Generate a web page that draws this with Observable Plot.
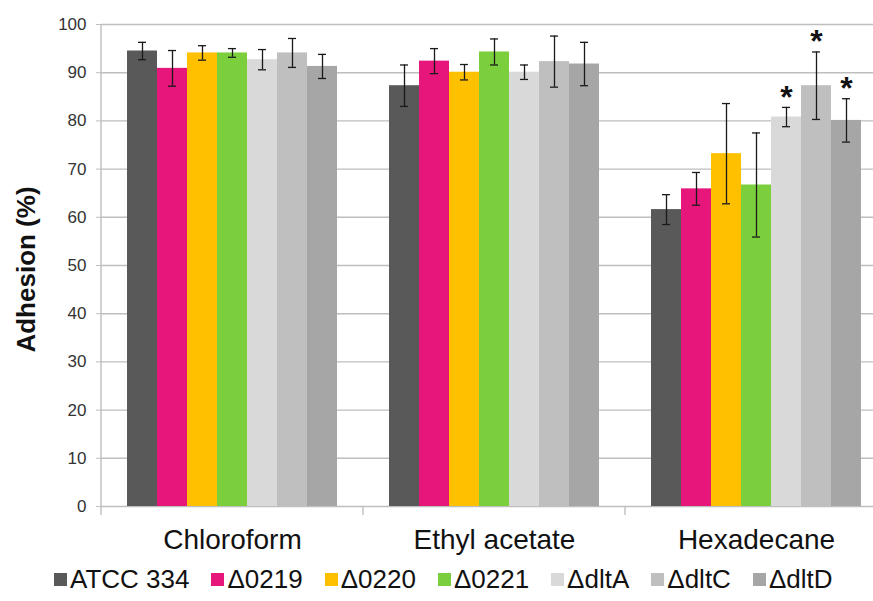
<!DOCTYPE html>
<html><head><meta charset="utf-8">
<script src="https://cdn.jsdelivr.net/npm/d3@7"></script>
<script src="https://cdn.jsdelivr.net/npm/@observablehq/plot@0.6"></script>
<style>
html,body{margin:0;padding:0;background:#fff;overflow:hidden;width:873px;height:601px;}
#chart{position:absolute;left:0;top:0;width:888px;}
#chart svg{max-width:none !important;}
#legend{position:absolute;left:0;top:564px;width:873px;box-sizing:border-box;padding-left:54px;display:flex;justify-content:flex-start;gap:22px;
  font-family:"Liberation Sans",Arial,sans-serif;font-size:26px;line-height:30px;color:#111;}
#legend .item{display:flex;align-items:center;white-space:pre;}
#legend .sw{width:13px;height:13px;margin-right:3px;}
</style></head><body>
<div id="chart"></div><div id="legend"></div>
<script>
const solvents = ["Chloroform", "Ethyl acetate", "Hexadecane"];
const strains = ["ATCC 334", "Δ0219", "Δ0220", "Δ0221", "ΔdltA", "ΔdltC", "ΔdltD"];
const strainColors = ["#595959", "#E6167A", "#FFC000", "#7CCF3C", "#D9D9D9", "#BFBFBF", "#A6A6A6"];
const chloroform = [94.5, 90.9, 94.1, 94.1, 92.7, 94.1, 91.3];
const chloroformErr = [1.8, 3.7, 1.5, 0.9, 2.1, 3.0, 2.5];
const ethylAcetate = [87.3, 92.4, 90.1, 94.3, 90.1, 92.3, 91.8];
const ethylAcetateErr = [4.3, 2.6, 1.6, 2.7, 1.5, 5.3, 4.5];
const hexadecane = [61.6, 65.9, 73.2, 66.7, 80.8, 87.3, 80.1];
const hexadecaneErr = [3.1, 3.4, 10.4, 10.8, 2.0, 7.0, 4.5];
const hexadecaneSignificant = [false, false, false, false, true, true, true];
const yTicks = [0, 10, 20, 30, 40, 50, 60, 70, 80, 90, 100];
const yLabel = "Adhesion (%)";

const seriesValues = [chloroform, ethylAcetate, hexadecane];
const seriesErrors = [chloroformErr, ethylAcetateErr, hexadecaneErr];
const seriesSig = [strains.map(() => false), strains.map(() => false), hexadecaneSignificant];
const rows = [];
solvents.forEach((s, i) => strains.forEach((st, j) => rows.push({
  solvent: s, strain: st, value: seriesValues[i][j], err: seriesErrors[i][j], sig: seriesSig[i][j]
})));

const errColor = "#1a1a1a";
const gridColor = "#BEBEBE";
const plot = Plot.plot({
  width: 888, height: 560,
  marginLeft: 100, marginRight: 0, marginTop: 24, marginBottom: 54,
  style: {fontFamily: "'Liberation Sans', Arial, sans-serif", background: "transparent", overflow: "visible", maxWidth: "none"},
  fx: {domain: solvents, padding: 0, label: null},
  x: {domain: strains, paddingInner: 0, paddingOuter: 0.79, axis: null},
  y: {domain: [0, 100], label: null},
  color: {domain: strains, range: strainColors},
  marks: [
    Plot.gridY(yTicks, {stroke: gridColor, strokeOpacity: 1, strokeWidth: 1.4}),
    Plot.barY(rows, {fx: "solvent", x: "strain", y: "value", fill: "strain", inset: 0}),
    Plot.ruleX(rows, {fx: "solvent", x: "strain", y1: d => d.value - d.err, y2: d => d.value + d.err, stroke: errColor, strokeWidth: 1.3}),
    Plot.tickY(rows, {fx: "solvent", x: "strain", y: d => d.value - d.err, insetLeft: 11, insetRight: 11, stroke: errColor, strokeWidth: 1.3}),
    Plot.tickY(rows, {fx: "solvent", x: "strain", y: d => d.value + d.err, insetLeft: 11, insetRight: 11, stroke: errColor, strokeWidth: 1.3}),
    Plot.text(rows.filter(d => d.sig), {fx: "solvent", x: "strain", y: d => d.value + d.err, text: () => "*", dy: -10, fontSize: 32, fontWeight: "bold", fill: "#111"}),
    Plot.axisY(yTicks, {tickSize: 5, tickPadding: 10, fontSize: 17, stroke: gridColor, fill: "#333", label: null}),
    Plot.text([yLabel], {fx: () => solvents[0], frameAnchor: "left", dx: -75, dy: 4, rotate: -90, textAnchor: "middle", text: d => d, fontSize: 26, fontWeight: "bold", fill: "#111"}),
    Plot.axisFx({anchor: "bottom", tickSize: 0, tickPadding: 23, fontSize: 28, fill: "#111", label: null})
  ]
});
document.getElementById("chart").appendChild(plot);

// y-axis line and category boundary ticks, positioned with the plot's own scales
const fxs = plot.scale("fx"), ys = plot.scale("y");
const svg = d3.select(plot);
const y0 = ys.apply(0), yTop = ys.apply(100);
const g = svg.append("g").attr("stroke", gridColor).attr("stroke-width", 1.4);
g.append("line").attr("x1", fxs.apply(solvents[0])).attr("x2", fxs.apply(solvents[0])).attr("y1", yTop).attr("y2", y0 + 9);
solvents.slice(1).forEach(s => {
  const x = fxs.apply(s);
  g.append("line").attr("x1", x).attr("x2", x).attr("y1", y0).attr("y2", y0 + 9);
});

const legend = document.getElementById("legend");
strains.forEach((s, i) => {
  const it = document.createElement("div"); it.className = "item";
  const sw = document.createElement("span"); sw.className = "sw"; sw.style.background = strainColors[i];
  const t = document.createElement("span"); t.textContent = s;
  it.appendChild(sw); it.appendChild(t); legend.appendChild(it);
});
</script></body></html>
